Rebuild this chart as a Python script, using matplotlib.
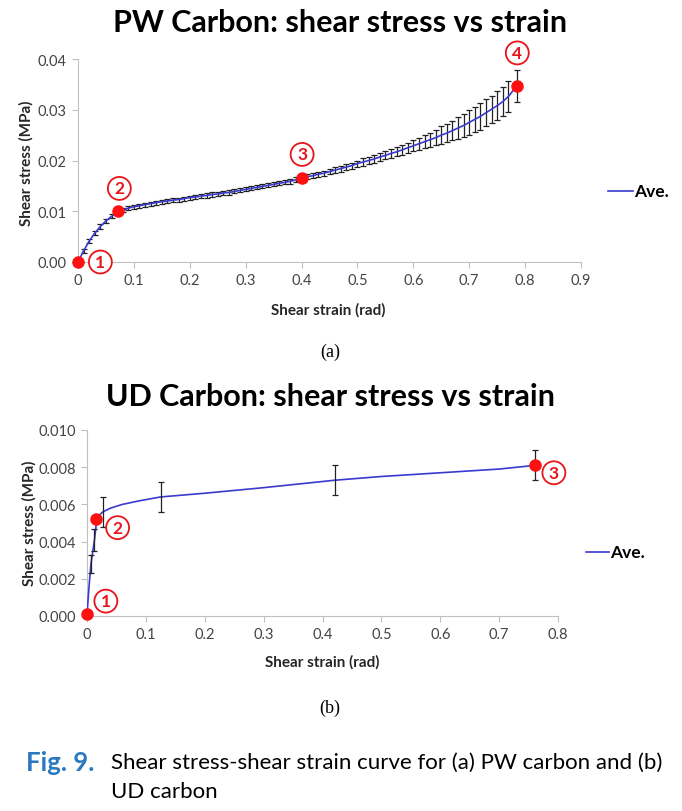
import numpy as np
import matplotlib.pyplot as plt

plt.rcParams['font.family'] = ['Lato', 'DejaVu Sans']

# ---- PW carbon: average curve with error bars ----
pw_strain = [0.00, 0.01, 0.02, 0.03, 0.04, 0.05, 0.06, 0.07, 0.08, 0.09,
             0.10, 0.11, 0.12, 0.13, 0.14, 0.15, 0.16, 0.17, 0.18, 0.19,
             0.20, 0.21, 0.22, 0.23, 0.24, 0.25, 0.26, 0.27, 0.28, 0.29,
             0.30, 0.31, 0.32, 0.33, 0.34, 0.35, 0.36, 0.37, 0.38, 0.39,
             0.40, 0.41, 0.42, 0.43, 0.44, 0.45, 0.46, 0.47, 0.48, 0.49,
             0.50, 0.51, 0.52, 0.53, 0.54, 0.55, 0.56, 0.57, 0.58, 0.59,
             0.60, 0.61, 0.62, 0.63, 0.64, 0.65, 0.66, 0.67, 0.68, 0.69,
             0.70, 0.71, 0.72, 0.73, 0.74, 0.75, 0.76, 0.77, 0.785]
pw_stress = [0.0000, 0.0022, 0.0041, 0.0057, 0.0070, 0.0081, 0.0090, 0.0097, 0.0102, 0.0106,
             0.0109, 0.0111, 0.0113, 0.0115, 0.0117, 0.0119, 0.0120, 0.0122, 0.0123, 0.0125,
             0.0127, 0.0128, 0.0130, 0.0131, 0.0133, 0.0134, 0.0136, 0.0137, 0.0139, 0.0141,
             0.0143, 0.0145, 0.0147, 0.0149, 0.0151, 0.0153, 0.0155, 0.0157, 0.0159, 0.0162,
             0.0166, 0.0168, 0.0170, 0.0173, 0.0175, 0.0178, 0.0181, 0.0184, 0.0187, 0.0190,
             0.0194, 0.0197, 0.0200, 0.0203, 0.0207, 0.0210, 0.0214, 0.0217, 0.0221, 0.0225,
             0.0229, 0.0233, 0.0237, 0.0241, 0.0245, 0.0250, 0.0254, 0.0259, 0.0264, 0.0269,
             0.0275, 0.0281, 0.0287, 0.0294, 0.0301, 0.0308, 0.0316, 0.0326, 0.0347]
pw_err = [0.0003, 0.0004, 0.0004, 0.0004, 0.0004, 0.0004, 0.0004, 0.0004, 0.0004, 0.0004,
          0.0004, 0.0004, 0.0004, 0.0004, 0.0004, 0.0004, 0.0004, 0.0004, 0.0004, 0.0004,
          0.0004, 0.0004, 0.0004, 0.0004, 0.0004, 0.0004, 0.0004, 0.0004, 0.0004, 0.0004,
          0.0004, 0.0004, 0.0004, 0.0004, 0.0004, 0.0004, 0.0004, 0.0004, 0.0005, 0.0005,
          0.0005, 0.0005, 0.0005, 0.0005, 0.0005, 0.0005, 0.0006, 0.0006, 0.0006, 0.0006,
          0.0006, 0.0007, 0.0007, 0.0007, 0.0008, 0.0008, 0.0009, 0.0009, 0.0010, 0.0010,
          0.0011, 0.0012, 0.0013, 0.0014, 0.0015, 0.0017, 0.0018, 0.0019, 0.0021, 0.0022,
          0.0024, 0.0025, 0.0026, 0.0027, 0.0027, 0.0028, 0.0029, 0.0030, 0.0032]
pw_mark_x = [0.0, 0.072, 0.40, 0.785]
pw_mark_y = [0.0, 0.0100, 0.0166, 0.0347]
pw_lab = ['1', '2', '3', '4']
pw_lab_x = [0.040, 0.074, 0.401, 0.786]
pw_lab_y = [0.0000, 0.0145, 0.0212, 0.0412]

# ---- UD carbon ----
ud_line_x = [0.0, 0.004, 0.0067, 0.0127, 0.016, 0.020, 0.027, 0.040, 0.060, 0.090,
             0.125, 0.20, 0.30, 0.421, 0.50, 0.60, 0.70, 0.761]
ud_line_y = [0.0001, 0.0018, 0.0028, 0.0041, 0.0050, 0.0054, 0.0056, 0.0058, 0.0060, 0.0062,
             0.0064, 0.0066, 0.0069, 0.0073, 0.0075, 0.0077, 0.0079, 0.0081]
ud_bar_x = [0.0067, 0.0127, 0.027, 0.125, 0.421, 0.761]
ud_bar_y = [0.0028, 0.0041, 0.0056, 0.0064, 0.0073, 0.0081]
ud_bar_err = [0.0005, 0.0006, 0.0008, 0.0008, 0.0008, 0.0008]
ud_mark_x = [0.0, 0.0149, 0.761]
ud_mark_y = [0.0001, 0.0052, 0.0081]
ud_lab = ['1', '2', '3']
ud_lab_x = [0.032, 0.052, 0.793]
ud_lab_y = [0.0008, 0.00475, 0.0077]

W, H = 682, 812
fig = plt.figure(figsize=(W / 100, H / 100), dpi=100)


def px_axes(x0, x1, y_top, y_bot):
    return fig.add_axes([x0 / W, 1 - y_bot / H, (x1 - x0) / W, (y_bot - y_top) / H])


def style(ax):
    for s in ['top', 'right']:
        ax.spines[s].set_visible(False)
    for s in ['left', 'bottom']:
        ax.spines[s].set_color('#c0c0c0')
        ax.spines[s].set_linewidth(0.8)
    ax.tick_params(direction='out', length=4, color='#c0c0c0', labelsize=10.5,
                   labelcolor='#444444', pad=4)


def circled(ax, xs, ys, labs):
    for x, y, t in zip(xs, ys, labs):
        ax.text(x, y, t, color='#e8141b', fontsize=12.5, fontweight='bold',
                ha='center', va='center', clip_on=False, zorder=6,
                bbox=dict(boxstyle='circle,pad=0.2', fc='white', ec='#e8141b', lw=1.3))


line_col = '#3a3ad0'
lab_kw = dict(ha='center', va='center', fontsize=11, fontweight='bold', color='#262626')

# top chart
ax1 = px_axes(78, 581, 60, 263)
ax1.errorbar(pw_strain, pw_stress, yerr=pw_err, color=line_col, lw=1.2,
             ecolor='#222222', elinewidth=0.9, capsize=2.2, capthick=0.9, zorder=3)
ax1.plot(pw_mark_x, pw_mark_y, 'o', color='#ff1010', ms=8, zorder=5, clip_on=False)
circled(ax1, pw_lab_x, pw_lab_y, pw_lab)
ax1.set_xlim(0, 0.9)
ax1.set_ylim(0, 0.04)
ax1.set_xticks(np.arange(0, 0.91, 0.1))
ax1.set_xticklabels(['0', '0.1', '0.2', '0.3', '0.4', '0.5', '0.6', '0.7', '0.8', '0.9'])
ax1.set_yticks([0, 0.01, 0.02, 0.03, 0.04])
ax1.set_yticklabels(['0.00', '0.01', '0.02', '0.03', '0.04'])
style(ax1)

fig.text(340 / W, 1 - 23 / H, 'PW Carbon: shear stress vs strain', ha='center', va='center',
         fontsize=22, fontweight='bold')
fig.text(26 / W, 1 - 163 / H, 'Shear stress (MPa)', rotation=90, **lab_kw)
fig.text(328 / W, 1 - 310 / H, 'Shear strain (rad)', **lab_kw)
fig.lines.append(plt.Line2D([608 / W, 633 / W], [1 - 192 / H, 1 - 192 / H], color=line_col,
                            lw=1.2, transform=fig.transFigure))
fig.text(634 / W, 1 - 192 / H, 'Ave.', ha='left', va='center', fontsize=12.5, fontweight='bold')
fig.text(330 / W, 1 - 352 / H, '(a)', ha='center', va='center', fontsize=13,
         family=['Liberation Serif'])

# bottom chart
ax2 = px_axes(87, 558, 431, 617)
ax2.plot(ud_line_x, ud_line_y, color=line_col, lw=1.2, zorder=3)
ax2.errorbar(ud_bar_x, ud_bar_y, yerr=ud_bar_err, fmt='none', ecolor='#222222',
             elinewidth=0.9, capsize=2.5, capthick=0.9, zorder=4)
ax2.plot(ud_mark_x, ud_mark_y, 'o', color='#ff1010', ms=8, zorder=5, clip_on=False)
circled(ax2, ud_lab_x, ud_lab_y, ud_lab)
ax2.set_xlim(0, 0.8)
ax2.set_ylim(0, 0.010)
ax2.set_xticks(np.arange(0, 0.81, 0.1))
ax2.set_xticklabels(['0', '0.1', '0.2', '0.3', '0.4', '0.5', '0.6', '0.7', '0.8'])
ax2.set_yticks([0, 0.002, 0.004, 0.006, 0.008, 0.010])
ax2.set_yticklabels(['0.000', '0.002', '0.004', '0.006', '0.008', '0.010'])
style(ax2)

fig.text(330 / W, 1 - 397 / H, 'UD Carbon: shear stress vs strain', ha='center', va='center',
         fontsize=22, fontweight='bold')
fig.text(29 / W, 1 - 523 / H, 'Shear stress (MPa)', rotation=90, **lab_kw)
fig.text(322 / W, 1 - 662 / H, 'Shear strain (rad)', **lab_kw)
fig.lines.append(plt.Line2D([586 / W, 609 / W], [1 - 553 / H, 1 - 553 / H], color=line_col,
                            lw=1.2, transform=fig.transFigure))
fig.text(610 / W, 1 - 553 / H, 'Ave.', ha='left', va='center', fontsize=12.5, fontweight='bold')
fig.text(330 / W, 1 - 708 / H, '(b)', ha='center', va='center', fontsize=13,
         family=['Liberation Serif'])

# caption
fig.text(26 / W, 1 - 763 / H, 'Fig. 9.', ha='left', va='center', fontsize=18.5,
         fontweight='bold', color='#2a78c0')
fig.text(111 / W, 1 - 763 / H, 'Shear stress-shear strain curve for (a) PW carbon and (b)',
         ha='left', va='center', fontsize=16)
fig.text(111 / W, 1 - 792 / H, 'UD carbon', ha='left', va='center', fontsize=16)

fig.savefig('out.png', dpi=100)
